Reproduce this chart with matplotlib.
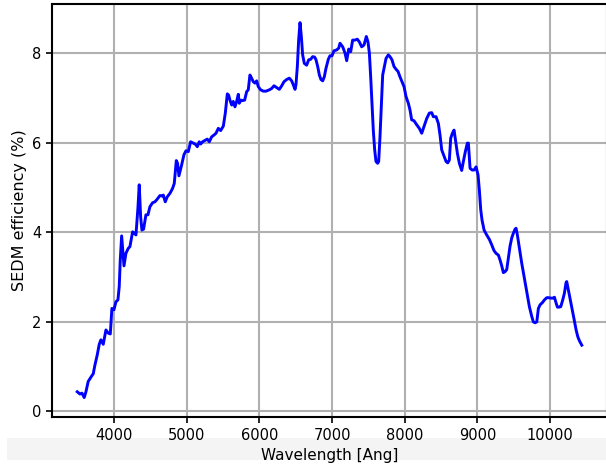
import numpy as np
import matplotlib
matplotlib.use('Agg')
import matplotlib.pyplot as plt
from matplotlib.patches import Rectangle

# wavelength (Angstrom) and SEDM efficiency (%)
wavelength = [3495, 3532, 3560, 3591, 3615, 3646, 3693, 3715, 3739, 3770,
              3798, 3821, 3853, 3890, 3922, 3950, 3972, 4000, 4028, 4055,
              4073, 4087, 4106, 4138, 4165, 4197, 4220, 4257, 4280, 4303,
              4330, 4348, 4367, 4385, 4408, 4440, 4468, 4495, 4532, 4564,
              4596, 4633, 4661, 4679, 4706, 4733, 4771, 4807, 4830, 4858,
              4875, 4894, 4931, 4963, 4991, 5023, 5055, 5092, 5124, 5147,
              5174, 5193, 5220, 5252, 5284, 5312, 5344, 5376, 5404, 5436,
              5468, 5505, 5532, 5560, 5578, 5596, 5620, 5642, 5665, 5688,
              5711, 5724, 5748, 5770, 5798, 5826, 5848, 5871, 5894, 5917,
              5940, 5963, 5986, 6018, 6055, 6092, 6138, 6170, 6202, 6239,
              6275, 6308, 6339, 6376, 6413, 6445, 6468, 6491, 6504, 6523,
              6541, 6560, 6578, 6596, 6619, 6651, 6679, 6706, 6734, 6761,
              6780, 6803, 6826, 6848, 6872, 6894, 6917, 6949, 6972, 7000,
              7027, 7064, 7092, 7110, 7147, 7179, 7202, 7230, 7257, 7284,
              7316, 7348, 7376, 7408, 7440, 7472, 7495, 7514, 7532, 7550,
              7568, 7587, 7605, 7628, 7642, 7660, 7678, 7697, 7720, 7743,
              7775, 7798, 7825, 7853, 7880, 7908, 7935, 7963, 7991, 8018,
              8050, 8073, 8096, 8128, 8165, 8201, 8234, 8266, 8303, 8339,
              8372, 8394, 8431, 8463, 8486, 8509, 8541, 8569, 8592, 8614,
              8633, 8656, 8679, 8702, 8725, 8752, 8784, 8807, 8834, 8862,
              8876, 8899, 8927, 8954, 8982, 9009, 9027, 9046, 9064, 9092,
              9128, 9165, 9197, 9229, 9257, 9289, 9312, 9335, 9357, 9381,
              9404, 9426, 9449, 9472, 9495, 9518, 9532, 9550, 9578, 9610,
              9642, 9679, 9715, 9748, 9770, 9794, 9817, 9839, 9862, 9894,
              9922, 9954, 9982, 10009, 10037, 10060, 10083, 10101, 10128, 10147,
              10174, 10197, 10220, 10229, 10252, 10275, 10303, 10330, 10358, 10381,
              10403, 10436]

efficiency = [0.44, 0.39, 0.41, 0.31, 0.44, 0.67, 0.79, 0.84, 1.04, 1.26,
              1.50, 1.60, 1.50, 1.82, 1.75, 1.73, 2.30, 2.27, 2.45, 2.49,
              2.79, 3.38, 3.92, 3.25, 3.53, 3.64, 3.68, 4.01, 3.98, 3.94,
              4.54, 5.06, 4.35, 4.05, 4.07, 4.39, 4.39, 4.57, 4.66, 4.68,
              4.74, 4.82, 4.81, 4.83, 4.68, 4.79, 4.87, 4.98, 5.09, 5.60,
              5.54, 5.26, 5.50, 5.73, 5.82, 5.80, 6.02, 5.99, 5.96, 5.91,
              6.02, 5.97, 6.02, 6.05, 6.08, 6.02, 6.13, 6.17, 6.21, 6.32,
              6.27, 6.37, 6.66, 7.09, 7.06, 6.95, 6.84, 6.92, 6.80, 6.92,
              7.08, 6.88, 6.95, 6.94, 6.95, 7.14, 7.18, 7.51, 7.44, 7.36,
              7.33, 7.38, 7.25, 7.18, 7.15, 7.15, 7.18, 7.21, 7.27, 7.23,
              7.19, 7.27, 7.36, 7.41, 7.44, 7.38, 7.29, 7.19, 7.29, 7.70,
              8.29, 8.68, 8.37, 7.96, 7.77, 7.73, 7.85, 7.86, 7.92, 7.91,
              7.85, 7.70, 7.51, 7.41, 7.38, 7.47, 7.66, 7.86, 7.94, 7.94,
              8.05, 8.07, 8.11, 8.22, 8.14, 8.00, 7.83, 8.09, 8.03, 8.29,
              8.29, 8.31, 8.25, 8.14, 8.18, 8.37, 8.25, 8.00, 7.47, 6.88,
              6.28, 5.84, 5.58, 5.54, 5.58, 6.13, 6.80, 7.51, 7.70, 7.88,
              7.96, 7.92, 7.85, 7.70, 7.64, 7.59, 7.47, 7.36, 7.25, 7.03,
              6.88, 6.73, 6.51, 6.49, 6.40, 6.32, 6.21, 6.36, 6.54, 6.66,
              6.67, 6.58, 6.58, 6.43, 6.17, 5.84, 5.70, 5.58, 5.55, 5.61,
              6.10, 6.21, 6.28, 6.02, 5.76, 5.54, 5.38, 5.58, 5.80, 5.99,
              5.99, 5.43, 5.39, 5.39, 5.46, 5.28, 4.94, 4.50, 4.27, 4.05,
              3.94, 3.84, 3.72, 3.59, 3.53, 3.49, 3.38, 3.25, 3.10, 3.12,
              3.17, 3.42, 3.69, 3.87, 3.98, 4.07, 4.09, 3.94, 3.64, 3.31,
              3.01, 2.67, 2.34, 2.12, 2.00, 1.98, 2.00, 2.30, 2.38, 2.43,
              2.49, 2.54, 2.54, 2.53, 2.53, 2.55, 2.42, 2.33, 2.33, 2.34,
              2.49, 2.64, 2.88, 2.90, 2.71, 2.53, 2.30, 2.06, 1.82, 1.67,
              1.58, 1.48]

xticks = [4000, 5000, 6000, 7000, 8000, 9000, 10000]
yticks = [0, 2, 4, 6, 8]

fig = plt.figure(figsize=(6.06, 4.65), dpi=100)

# grey strip along the bottom (window status bar look)
fig.patches.append(Rectangle((7 / 606., 5 / 465.), 1.0, 22 / 465., transform=fig.transFigure,
                             facecolor='#f4f4f4', edgecolor='none', zorder=-1))

ax = fig.add_axes([52 / 606., 47.7 / 465., 555 / 606., 413.5 / 465.])
ax.plot(wavelength, efficiency, color='b', linewidth=2.1)

ax.set_xlim(3148, 10783)
ax.set_ylim(-0.13, 9.10)
ax.set_xticks(xticks)
ax.set_yticks(yticks)
ax.grid(True, color='#b0b0b0', linewidth=1.5)
ax.set_axisbelow(True)
for sp in ax.spines.values():
    sp.set_linewidth(1.5)
ax.tick_params(labelsize=10.5, width=1.2, length=4)

ax.set_xlabel('Wavelength [Ang]', fontsize=11, labelpad=4)
ax.set_ylabel('SEDM efficiency (%)', fontsize=11.5, labelpad=4)

fig.savefig('out.png', dpi=100)
